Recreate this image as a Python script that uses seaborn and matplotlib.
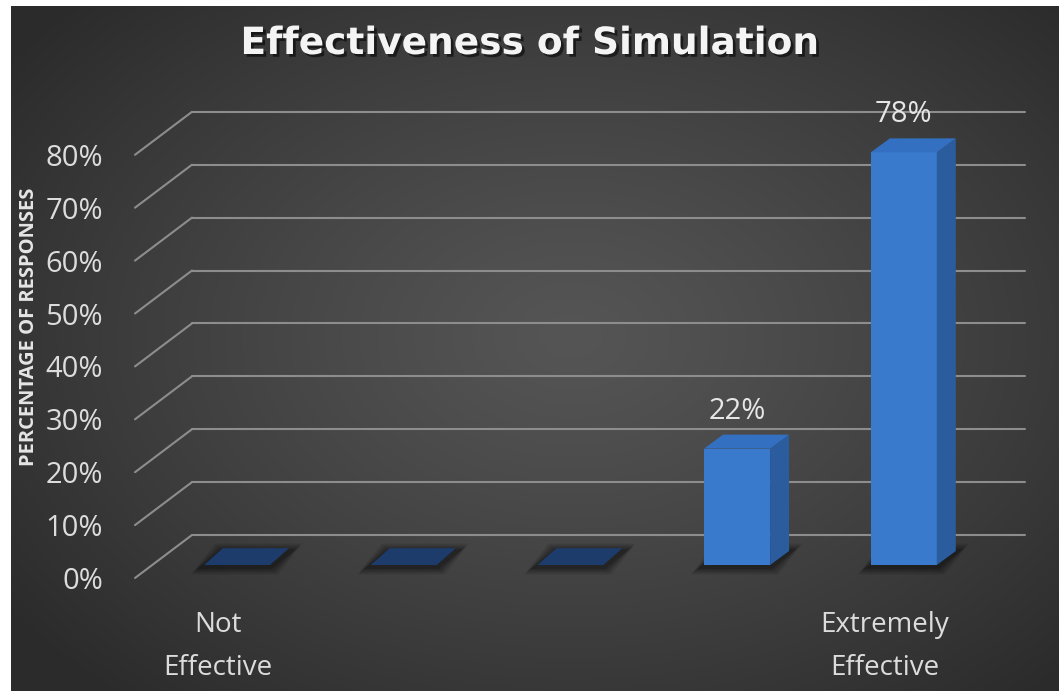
import numpy as np
import pandas as pd
import matplotlib
matplotlib.use("Agg")
import matplotlib.pyplot as plt
import seaborn as sns
from matplotlib import transforms
from matplotlib.patches import Polygon
import matplotlib.patheffects as pe

# ---------------- data ----------------
categories = ["1", "2", "3", "4", "5"]
values = [0, 0, 0, 22, 78]
tick_labels = ["Not\nEffective", "", "", "", "Extremely\nEffective"]
y_ticks = [0, 10, 20, 30, 40, 50, 60, 70, 80]
y_tick_labels = ["0%", "10%", "20%", "30%", "40%", "50%", "60%", "70%", "80%"]
title_text = "Effectiveness of Simulation"
ylabel_text = "PERCENTAGE OF RESPONSES"

# ---------------- layout (pixels) ----------------
W, H = 1059, 691
AX_L, AX_R = 135, 1025          # front diagonal start .. back wall end
BASE_Y = 565                     # bar base (px from top)
SCALE = 5.29                     # px per percent
C0, STEP = 237, 166.7            # first bar centre, bar spacing
BACK_X = 192                     # back wall left edge
BACK_DY = 30                     # back wall lines are this many px above bar plane
FRONT_DY = 13                    # front ends of diagonals are this many px below
DEPTH_X, DEPTH_Y = 19, 14        # bar depth in px
BAR_W = 66 / STEP

sns.set_theme(style="white")
plt.rcParams["font.family"] = ["Open Sans", "DejaVu Sans"]

fig = plt.figure(figsize=(W / 100, H / 100), dpi=100)
fig.patch.set_facecolor("white")

# ---------------- background radial gradient ----------------
bg = fig.add_axes([11 / W, 0, 1 - 11 / W, 1 - 6 / H])
bg.set_axis_off()
gx, gy = np.meshgrid(np.arange(W - 11), np.arange(H - 6))
cx, cy = 560, 330
r = np.sqrt(((gx - cx) / 700.0) ** 2 + ((gy - cy) / 480.0) ** 2)
r = np.clip(r, 0, 1)
c_center, c_edge = 0x55 / 255, 0x2b / 255
val = c_center + (c_edge - c_center) * r ** 1.2
img = np.dstack([val, val, val])
bg.imshow(img, aspect="auto", interpolation="bilinear")

# ---------------- main axes ----------------
top_px = BASE_Y - 80 * SCALE
ax = fig.add_axes([AX_L / W, (H - BASE_Y) / H, (AX_R - AX_L) / W, (BASE_Y - top_px) / H])
ax.patch.set_alpha(0)

df = pd.DataFrame({"rating": categories, "pct": values})
front_col = "#3a7acc"
side_col = "#2a5c9e"
top_col = "#3470c2"
zero_col = "#1d3c6c"

sns.barplot(data=df, x="rating", y="pct", order=categories, color=front_col,
            saturation=1, width=BAR_W, linewidth=0, ax=ax, zorder=5, errorbar=None)

xl = -(C0 - AX_L) / STEP
xr = (len(categories) - 1) + (AX_R - (C0 + STEP * (len(categories) - 1))) / STEP
ax.set_xlim(xl, xr)
ax.set_ylim(0, 80)
for s in ax.spines.values():
    s.set_visible(False)

ddx = DEPTH_X / STEP
ddy = DEPTH_Y / SCALE

# grid: diagonals + back wall lines
bx = xl + (BACK_X - AX_L) / STEP
for v in y_ticks:
    yb = v + BACK_DY / SCALE
    yf = v - FRONT_DY / SCALE
    ax.plot([xl, bx], [yf, yb], color="#8d8d8d", lw=1.5, clip_on=False, zorder=1)
    ax.plot([bx, xr], [yb, yb], color="#8d8d8d", lw=1.5, clip_on=False, zorder=1)

# 3D faces derived from the seaborn bar patches
for p in list(ax.patches):
    x0 = p.get_x()
    w = p.get_width()
    h = p.get_height()
    x1 = x0 + w
    # soft shadow
    for k, a in enumerate([0.10, 0.12, 0.14, 0.18]):
        e = (4 - k) * 0.012
        ey = (4 - k) * 0.35
        shadow = [(x0 - e - 0.03, -ey - 0.4), (x1 + e, -ey - 0.4),
                  (x1 + ddx + e + 0.03, ddy + ey), (x0 + ddx - e, ddy + ey)]
        ax.add_patch(Polygon(shadow, closed=True, facecolor="black", alpha=a,
                             lw=0, zorder=3, clip_on=False))
    if h <= 0:
        ax.add_patch(Polygon([(x0, 0), (x1, 0), (x1 + ddx, ddy * 1.2), (x0 + ddx, ddy * 1.2)],
                             closed=True, facecolor=zero_col, lw=0, zorder=6, clip_on=False))
    else:
        ax.add_patch(Polygon([(x1, 0), (x1 + ddx, ddy), (x1 + ddx, h + ddy), (x1, h)],
                             closed=True, facecolor=side_col, lw=0, zorder=6, clip_on=False))
        ax.add_patch(Polygon([(x0, h), (x1, h), (x1 + ddx, h + ddy), (x0 + ddx, h + ddy)],
                             closed=True, facecolor=top_col, lw=0, zorder=6, clip_on=False))
        ax.annotate(f"{h:.0f}%", xy=(x0 + w / 2, h), xytext=(0, 21.6),
                    textcoords="offset points", ha="center", va="baseline",
                    fontsize=21, color="#e6e6e6", zorder=7, annotation_clip=False)

# y ticks
ax.set_yticks(y_ticks)
ax.set_yticklabels(y_tick_labels, fontsize=21, color="#dcdcdc")
ax.tick_params(axis="y", length=0, pad=23)
for lab in ax.get_yticklabels():
    lab.set_transform(lab.get_transform() +
                      transforms.ScaledTranslation(0, -FRONT_DY / 100, fig.dpi_scale_trans))

# x ticks
ax.set_xticks(range(len(categories)))
ax.set_xticklabels(tick_labels, fontsize=20, color="#dcdcdc", linespacing=1.7)
ax.tick_params(axis="x", length=0, pad=33)
ax.set_xlabel("")
for lab in ax.get_xticklabels():
    lab.set_transform(lab.get_transform() +
                      transforms.ScaledTranslation(-19 / 100, 0, fig.dpi_scale_trans))

# y label
ax.set_ylabel(ylabel_text, fontsize=14.5, fontweight="bold", color="#e6e6e6")
ax.yaxis.set_label_coords((39 - AX_L) / (AX_R - AX_L), (BASE_Y - 327) / (BASE_Y - top_px))

# title
fig.text(530 / W, 1 - 44 / H, title_text, ha="center", va="center", fontsize=27,
         fontweight="bold", color="#f4f4f4", family=["DejaVu Sans"],
         path_effects=[pe.SimplePatchShadow(offset=(2, -2), shadow_rgbFace="black", alpha=0.55),
                       pe.Normal()])

fig.savefig("out.png", dpi=100, facecolor=fig.get_facecolor())
